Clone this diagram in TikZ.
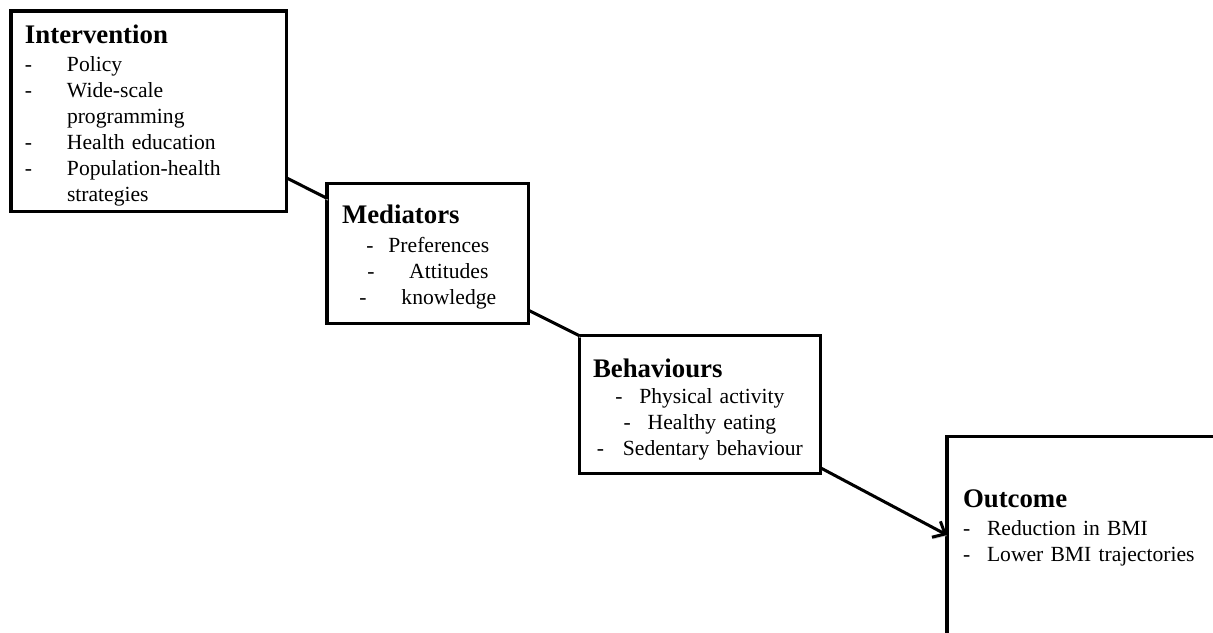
\documentclass[tikz,border=0pt]{standalone}
\usepackage{fontspec}
\setmainfont{Liberation Serif}
\usetikzlibrary{arrows.meta, positioning}

% heading font and one list entry (dash, gap, text)
\newcommand{\hd}{\fontsize{13.4}{16}\selectfont\bfseries}
\newcommand{\itm}[2][21pt]{\makebox[#1][l]{-}#2}

\begin{document}
\begin{tikzpicture}[
  x=0.5pt, y=0.5pt,
  font=\fontsize{10.8}{13}\selectfont,
  >={Straight Barb[length=5pt, width=9pt]},
  stage/.style={draw, line width=1.6pt, inner sep=0pt, outer sep=0pt},
  txt/.style={inner sep=0pt, outer sep=0pt},
  link/.style={line width=1.5pt,
               preaction={draw=black!18, transform canvas={shift={(0.5pt,-0.9pt)}}}},
]
\useasboundingbox (0,0) rectangle (1213,-632);
\clip (0,0) rectangle (1213,-632);

\node[stage, minimum width=137.85pt, minimum height=100.35pt, anchor=north west] (intv) at (11,-11) {};
\node[stage, minimum width=100.85pt, minimum height=70pt,
      below right=-14.2pt and 20.15pt of intv.south east] (med) {};
\node[stage, minimum width=120.4pt, minimum height=68.95pt,
      below right=6.25pt and 25.4pt of med.south east] (beh) {};
\node[stage, minimum width=150pt, minimum height=125pt,
      below right=-18.7pt and 63.35pt of beh.south east] (out) {};

\node[txt, text width=128pt, align=left, anchor=base west] (intvtxt) at ([xshift=7pt, yshift=-16pt]intv.north west)
  {{\hd Intervention}\\[1pt]
   \itm{Policy}\\
   \itm{Wide-scale}\\
   \hspace*{21pt}programming\\
   \itm{Health education}\\
   \itm{Population-health}\\
   \hspace*{21pt}strategies};
\node[txt, text width=100.85pt, align=center, anchor=base] (medtxt) at ([yshift=-19.85pt]med.north)
  {\makebox[\linewidth][l]{\hspace{7.5pt}\hd Mediators}\\[1.5pt]
   \itm[11pt]{Preferences}\\
   \itm{Attitudes}\\
   \itm{knowledge}};
\node[txt, text width=120.4pt, align=center, anchor=base] (behtxt) at ([yshift=-20.6pt]beh.north)
  {\makebox[\linewidth][l]{\hspace{6.75pt}\hd Behaviours}\\
   \itm[12pt]{Physical activity}\\
   \itm[12pt]{Healthy eating}\\
   \itm[13pt]{Sedentary behaviour}};
\node[txt, text width=128pt, align=left, anchor=base west] (outtxt) at ([xshift=8pt, yshift=-35.35pt]out.north west)
  {{\hd Outcome}\\[1pt]
   \itm[12pt]{Reduction in BMI}\\
   \itm[12pt]{Lower BMI trajectories}};

\draw[link] ([yshift=-33.3pt]intv.east) -- ([yshift=-7.5pt]med.north west);
\draw[link] ([yshift=6.5pt]med.south east) -- (beh.north west);
\draw[link, ->] ([yshift=3pt]beh.south east) -- ([yshift=-49.35pt]out.north west);
\end{tikzpicture}
\end{document}
